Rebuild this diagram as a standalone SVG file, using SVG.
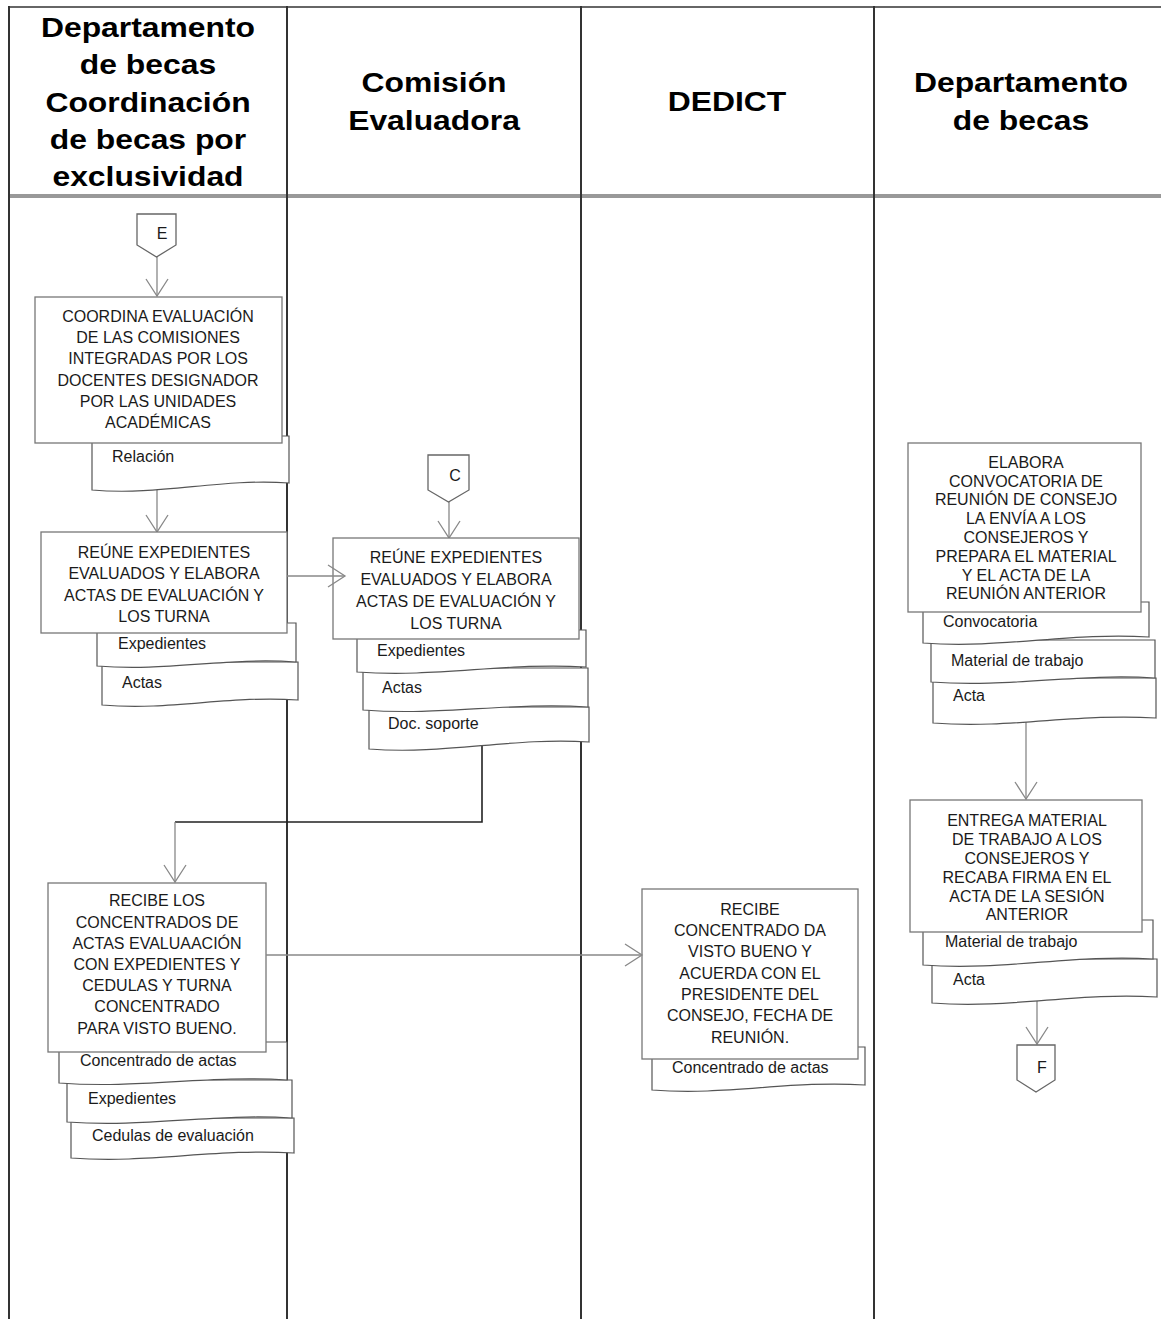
<svg xmlns="http://www.w3.org/2000/svg" width="1161" height="1319" viewBox="0 0 1161 1319">
<defs>
<style>
.lane{stroke:#333;stroke-width:2;fill:none}
.hdr{font-family:"Liberation Sans",Arial,sans-serif;font-weight:bold;font-size:27px;fill:#000;text-anchor:middle}
.box{fill:#fff;stroke:#777;stroke-width:1.3}
.doc{fill:#fff;stroke:#555;stroke-width:1.2}
.bt{font-family:"Liberation Sans",Arial,sans-serif;font-size:16px;fill:#1a1a1a;text-anchor:middle}
.dt{font-family:"Liberation Sans",Arial,sans-serif;font-size:16px;fill:#1a1a1a}
.con{stroke:#888;stroke-width:1.3;fill:none}
.dark{stroke:#222;stroke-width:1.6;fill:none}
.pent{fill:#fff;stroke:#666;stroke-width:1.3}
</style>
<marker id="v" viewBox="-19 -13 21 26" refX="0" refY="0" markerWidth="21" markerHeight="26" markerUnits="userSpaceOnUse" orient="auto">
<path d="M-17,-11 L0,0 L-17,11" fill="none" stroke="#888" stroke-width="1.3"/>
</marker>
</defs>
<rect width="1161" height="1319" fill="#fff"/>
<g id="frame">
<line x1="9" y1="7" x2="1161" y2="7" stroke="#666" stroke-width="2"/>
<line x1="9" y1="196" x2="1161" y2="196" stroke="#999" stroke-width="4"/>
<line class="lane" x1="9" y1="6" x2="9" y2="1319"/>
<line class="lane" x1="287" y1="6" x2="287" y2="1319"/>
<line class="lane" x1="581" y1="6" x2="581" y2="1319"/>
<line class="lane" x1="874" y1="6" x2="874" y2="1319"/>
</g>
<g id="headers">
<g transform="translate(148,0) scale(1.18,1)">
<text class="hdr" x="0" y="37">Departamento</text>
<text class="hdr" x="0" y="74">de becas</text>
<text class="hdr" x="0" y="112">Coordinación</text>
<text class="hdr" x="0" y="149">de becas por</text>
<text class="hdr" x="0" y="186">exclusividad</text>
</g>
<g transform="translate(434,0) scale(1.18,1)">
<text class="hdr" x="0" y="92">Comisión</text>
<text class="hdr" x="0" y="130">Evaluadora</text>
</g>
<g transform="translate(727,0) scale(1.18,1)">
<text class="hdr" x="0" y="111">DEDICT</text>
</g>
<g transform="translate(1021,0) scale(1.18,1)">
<text class="hdr" x="0" y="92">Departamento</text>
<text class="hdr" x="0" y="130">de becas</text>
</g>
</g>
<g id="connectors">
<line class="con" x1="157" y1="257" x2="157" y2="296" marker-end="url(#v)"/>
<line class="con" x1="157" y1="490" x2="157" y2="532" marker-end="url(#v)"/>
<line class="con" x1="449" y1="502" x2="449" y2="538" marker-end="url(#v)"/>
<polyline class="dark" points="482,745 482,822 175,822"/>
<line class="con" x1="175" y1="822" x2="175" y2="882" marker-end="url(#v)"/>
<line class="con" x1="1026" y1="720" x2="1026" y2="799" marker-end="url(#v)"/>
<line class="con" x1="1037" y1="1000" x2="1037" y2="1044" marker-end="url(#v)"/>
</g>
<g id="E">
<path class="pent" d="M137,214 H176 V245 L156.5,257 L137,245 Z"/>
<text class="bt" x="162" y="239">E</text>
</g>
<g id="C">
<path class="pent" d="M428,455 H469 V490 L448.5,502 L428,490 Z"/>
<text class="bt" x="455" y="481">C</text>
</g>
<g id="F">
<path class="pent" d="M1017,1045 H1055 V1080 L1036,1092 L1017,1080 Z"/>
<text class="bt" x="1042" y="1073">F</text>
</g>
<g id="doc-relacion">
<path class="doc" d="M92,436 H289 V483 C220,478 161,496 92,490 Z"/>
<text class="dt" x="112" y="462">Relación</text>
</g>
<g id="box-coordina">
<rect class="box" x="35" y="297" width="247" height="146"/>
<text class="bt" x="158" y="322">COORDINA EVALUACIÓN</text>
<text class="bt" x="158" y="343">DE LAS COMISIONES</text>
<text class="bt" x="158" y="364">INTEGRADAS POR LOS</text>
<text class="bt" x="158" y="386">DOCENTES DESIGNADOR</text>
<text class="bt" x="158" y="407">POR LAS UNIDADES</text>
<text class="bt" x="158" y="428">ACADÉMICAS</text>
</g>
<g id="docs-reune1">
<path class="doc" d="M102,662 H298 V700 C230,695 171,711 102,705 Z"/>
<text class="dt" x="122" y="688">Actas</text>
<path class="doc" d="M97,623 H296 V662 C226,657 167,672 97,666 Z"/>
<text class="dt" x="118" y="649">Expedientes</text>
</g>
<g id="box-reune1">
<rect class="box" x="41" y="532" width="246" height="101"/>
<text class="bt" x="164" y="558">REÚNE EXPEDIENTES</text>
<text class="bt" x="164" y="579">EVALUADOS Y ELABORA</text>
<text class="bt" x="164" y="601">ACTAS DE EVALUACIÓN Y</text>
<text class="bt" x="164" y="622">LOS TURNA</text>
</g>
<g id="docs-reune2">
<path class="doc" d="M369,707 H589 V742 C512,737 446,755 369,749 Z"/>
<text class="dt" x="388" y="729">Doc. soporte</text>
<path class="doc" d="M363,668 H588 V707 C509,702 442,716 363,710 Z"/>
<text class="dt" x="382" y="693">Actas</text>
<path class="doc" d="M357,630 H586 V667 C506,662 437,678 357,672 Z"/>
<text class="dt" x="377" y="656">Expedientes</text>
</g>
<g id="box-reune2">
<rect class="box" x="333" y="538" width="246" height="101"/>
<text class="bt" x="456" y="563">REÚNE EXPEDIENTES</text>
<text class="bt" x="456" y="585">EVALUADOS Y ELABORA</text>
<text class="bt" x="456" y="607">ACTAS DE EVALUACIÓN Y</text>
<text class="bt" x="456" y="629">LOS TURNA</text>
</g>
<line class="con" x1="287" y1="576" x2="345" y2="576" marker-end="url(#v)"/>
<g id="docs-recibe1">
<path class="doc" d="M71,1118 H294 V1153 C216,1148 149,1164 71,1158 Z"/>
<text class="dt" x="92" y="1141">Cedulas de evaluación</text>
<path class="doc" d="M67,1080 H292 V1118 C213,1113 146,1128 67,1122 Z"/>
<text class="dt" x="88" y="1104">Expedientes</text>
<path class="doc" d="M59,1042 H287 V1080 C207,1075 139,1089 59,1083 Z"/>
<text class="dt" x="80" y="1066">Concentrado de actas</text>
</g>
<g id="box-recibe1">
<rect class="box" x="48" y="883" width="218" height="169"/>
<text class="bt" x="157" y="906">RECIBE LOS</text>
<text class="bt" x="157" y="928">CONCENTRADOS DE</text>
<text class="bt" x="157" y="949">ACTAS EVALUAACIÓN</text>
<text class="bt" x="157" y="970">CON EXPEDIENTES Y</text>
<text class="bt" x="157" y="991">CEDULAS Y TURNA</text>
<text class="bt" x="157" y="1012">CONCENTRADO</text>
<text class="bt" x="157" y="1034">PARA VISTO BUENO.</text>
</g>
<g id="docs-recibe2">
<path class="doc" d="M652,1047 H865 V1085 C790,1080 727,1096 652,1090 Z"/>
<text class="dt" x="672" y="1073">Concentrado de actas</text>
</g>
<g id="box-recibe2">
<rect class="box" x="642" y="889" width="216" height="170"/>
<text class="bt" x="750" y="915">RECIBE</text>
<text class="bt" x="750" y="936">CONCENTRADO DA</text>
<text class="bt" x="750" y="957">VISTO BUENO Y</text>
<text class="bt" x="750" y="979">ACUERDA CON EL</text>
<text class="bt" x="750" y="1000">PRESIDENTE DEL</text>
<text class="bt" x="750" y="1021">CONSEJO, FECHA DE</text>
<text class="bt" x="750" y="1043">REUNIÓN.</text>
</g>
<line class="con" x1="266" y1="955" x2="642" y2="955" marker-end="url(#v)"/>
<g id="docs-elabora">
<path class="doc" d="M933,678 H1156 V718 C1078,713 1011,729 933,723 Z"/>
<text class="dt" x="953" y="701">Acta</text>
<path class="doc" d="M931,640 H1155 V678 C1077,673 1009,688 931,682 Z"/>
<text class="dt" x="951" y="666">Material de trabajo</text>
<path class="doc" d="M923,602 H1149 V637 C1070,632 1002,649 923,643 Z"/>
<text class="dt" x="943" y="627">Convocatoria</text>
</g>
<g id="box-elabora">
<rect class="box" x="908" y="443" width="233" height="169"/>
<text class="bt" x="1026" y="468">ELABORA</text>
<text class="bt" x="1026" y="487">CONVOCATORIA DE</text>
<text class="bt" x="1026" y="505">REUNIÓN DE CONSEJO</text>
<text class="bt" x="1026" y="524">LA ENVÍA A LOS</text>
<text class="bt" x="1026" y="543">CONSEJEROS Y</text>
<text class="bt" x="1026" y="562">PREPARA EL MATERIAL</text>
<text class="bt" x="1026" y="581">Y EL ACTA DE LA</text>
<text class="bt" x="1026" y="599">REUNIÓN ANTERIOR</text>
</g>
<g id="docs-entrega">
<path class="doc" d="M932,959 H1157 V997 C1078,992 1011,1009 932,1003 Z"/>
<text class="dt" x="953" y="985">Acta</text>
<path class="doc" d="M923,920 H1153 V959 C1073,954 1004,971 923,965 Z"/>
<text class="dt" x="945" y="947">Material de trabajo</text>
</g>
<g id="box-entrega">
<rect class="box" x="910" y="800" width="232" height="132"/>
<text class="bt" x="1027" y="826">ENTREGA MATERIAL</text>
<text class="bt" x="1027" y="845">DE TRABAJO A LOS</text>
<text class="bt" x="1027" y="864">CONSEJEROS Y</text>
<text class="bt" x="1027" y="883">RECABA FIRMA EN EL</text>
<text class="bt" x="1027" y="902">ACTA DE LA SESIÓN</text>
<text class="bt" x="1027" y="920">ANTERIOR</text>
</g>
</svg>
